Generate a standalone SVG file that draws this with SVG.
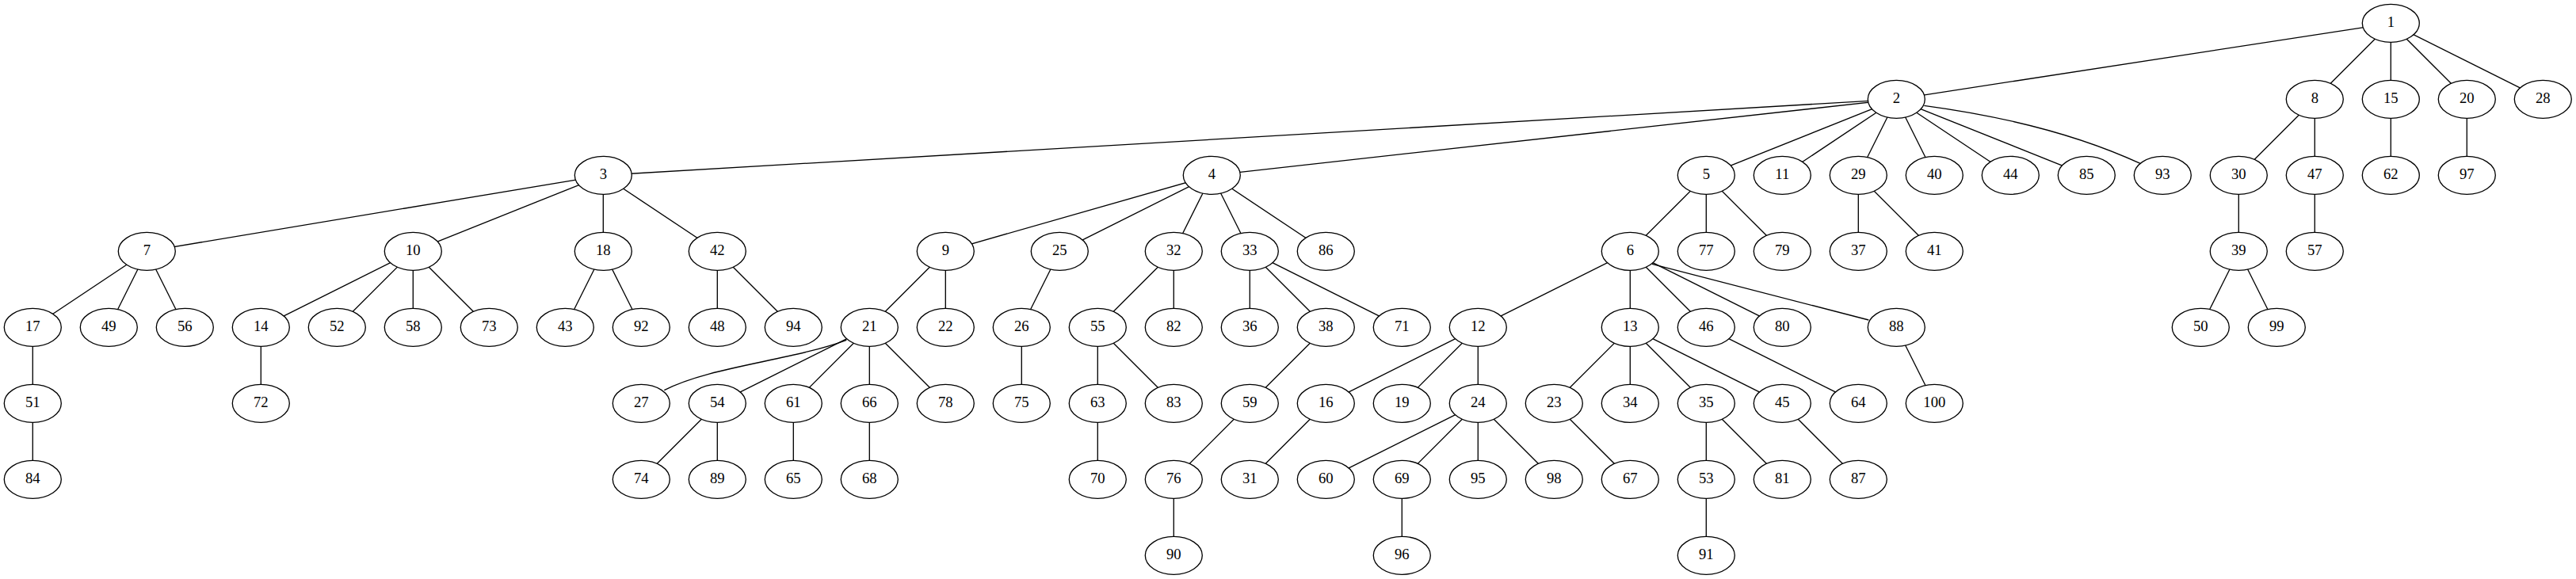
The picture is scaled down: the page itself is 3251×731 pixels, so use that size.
<svg xmlns="http://www.w3.org/2000/svg" width="3251" height="731" viewBox="0 0 3251 731">
<style>
.n ellipse{fill:#fff;stroke:#000;stroke-width:1.33}
.n text{font-family:"Liberation Serif","Times New Roman",serif;font-size:18.67px;text-anchor:middle;fill:#000}
#edges line,#edges path{stroke:#000;stroke-width:1.33;fill:none}
</style>
<rect width="3251" height="731" fill="#fff"/>
<g id="edges">
<line x1="3017.3" y1="29.3" x2="2393.3" y2="125.3"/>
<line x1="3017.3" y1="29.3" x2="2921.3" y2="125.3"/>
<line x1="3017.3" y1="29.3" x2="3017.3" y2="125.3"/>
<line x1="3017.3" y1="29.3" x2="3113.3" y2="125.3"/>
<line x1="3017.3" y1="29.3" x2="3209.3" y2="125.3"/>
<line x1="2393.3" y1="125.3" x2="761.3" y2="221.3"/>
<line x1="2393.3" y1="125.3" x2="1529.3" y2="221.3"/>
<line x1="2393.3" y1="125.3" x2="2153.3" y2="221.3"/>
<line x1="2393.3" y1="125.3" x2="2249.3" y2="221.3"/>
<line x1="2393.3" y1="125.3" x2="2345.3" y2="221.3"/>
<line x1="2393.3" y1="125.3" x2="2441.3" y2="221.3"/>
<line x1="2393.3" y1="125.3" x2="2537.3" y2="221.3"/>
<line x1="2393.3" y1="125.3" x2="2633.3" y2="221.3"/>
<path d="M2428.3,133.3 Q2590,155 2701.7,206.7"/>
<line x1="2921.3" y1="125.3" x2="2825.3" y2="221.3"/>
<line x1="2921.3" y1="125.3" x2="2921.3" y2="221.3"/>
<line x1="3017.3" y1="125.3" x2="3017.3" y2="221.3"/>
<line x1="3113.3" y1="125.3" x2="3113.3" y2="221.3"/>
<line x1="761.3" y1="221.3" x2="185.3" y2="317.3"/>
<line x1="761.3" y1="221.3" x2="521.3" y2="317.3"/>
<line x1="761.3" y1="221.3" x2="761.3" y2="317.3"/>
<line x1="761.3" y1="221.3" x2="905.3" y2="317.3"/>
<line x1="1529.3" y1="221.3" x2="1193.3" y2="317.3"/>
<line x1="1529.3" y1="221.3" x2="1337.3" y2="317.3"/>
<line x1="1529.3" y1="221.3" x2="1481.3" y2="317.3"/>
<line x1="1529.3" y1="221.3" x2="1577.3" y2="317.3"/>
<line x1="1529.3" y1="221.3" x2="1673.3" y2="317.3"/>
<line x1="2153.3" y1="221.3" x2="2057.3" y2="317.3"/>
<line x1="2153.3" y1="221.3" x2="2153.3" y2="317.3"/>
<line x1="2153.3" y1="221.3" x2="2249.3" y2="317.3"/>
<line x1="2345.3" y1="221.3" x2="2345.3" y2="317.3"/>
<line x1="2345.3" y1="221.3" x2="2441.3" y2="317.3"/>
<line x1="2825.3" y1="221.3" x2="2825.3" y2="317.3"/>
<line x1="2921.3" y1="221.3" x2="2921.3" y2="317.3"/>
<line x1="185.3" y1="317.3" x2="41.3" y2="413.3"/>
<line x1="185.3" y1="317.3" x2="137.3" y2="413.3"/>
<line x1="185.3" y1="317.3" x2="233.3" y2="413.3"/>
<line x1="521.3" y1="317.3" x2="329.3" y2="413.3"/>
<line x1="521.3" y1="317.3" x2="425.3" y2="413.3"/>
<line x1="521.3" y1="317.3" x2="521.3" y2="413.3"/>
<line x1="521.3" y1="317.3" x2="617.3" y2="413.3"/>
<line x1="761.3" y1="317.3" x2="713.3" y2="413.3"/>
<line x1="761.3" y1="317.3" x2="809.3" y2="413.3"/>
<line x1="905.3" y1="317.3" x2="905.3" y2="413.3"/>
<line x1="905.3" y1="317.3" x2="1001.3" y2="413.3"/>
<line x1="1193.3" y1="317.3" x2="1097.3" y2="413.3"/>
<line x1="1193.3" y1="317.3" x2="1193.3" y2="413.3"/>
<line x1="1337.3" y1="317.3" x2="1289.3" y2="413.3"/>
<line x1="1481.3" y1="317.3" x2="1385.3" y2="413.3"/>
<line x1="1481.3" y1="317.3" x2="1481.3" y2="413.3"/>
<line x1="1577.3" y1="317.3" x2="1577.3" y2="413.3"/>
<line x1="1577.3" y1="317.3" x2="1673.3" y2="413.3"/>
<line x1="1577.3" y1="317.3" x2="1769.3" y2="413.3"/>
<line x1="2057.3" y1="317.3" x2="1865.3" y2="413.3"/>
<line x1="2057.3" y1="317.3" x2="2057.3" y2="413.3"/>
<line x1="2057.3" y1="317.3" x2="2153.3" y2="413.3"/>
<line x1="2057.3" y1="317.3" x2="2249.3" y2="413.3"/>
<line x1="2085" y1="333.3" x2="2358.3" y2="404"/>
<line x1="2825.3" y1="317.3" x2="2777.3" y2="413.3"/>
<line x1="2825.3" y1="317.3" x2="2873.3" y2="413.3"/>
<line x1="41.3" y1="413.3" x2="41.3" y2="509.3"/>
<line x1="329.3" y1="413.3" x2="329.3" y2="509.3"/>
<path d="M1068.3,429.3 C1000,455 895,463 838.3,492.7"/>
<line x1="1097.3" y1="413.3" x2="905.3" y2="509.3"/>
<line x1="1097.3" y1="413.3" x2="1001.3" y2="509.3"/>
<line x1="1097.3" y1="413.3" x2="1097.3" y2="509.3"/>
<line x1="1097.3" y1="413.3" x2="1193.3" y2="509.3"/>
<line x1="1289.3" y1="413.3" x2="1289.3" y2="509.3"/>
<line x1="1385.3" y1="413.3" x2="1385.3" y2="509.3"/>
<line x1="1385.3" y1="413.3" x2="1481.3" y2="509.3"/>
<line x1="1673.3" y1="413.3" x2="1577.3" y2="509.3"/>
<line x1="1865.3" y1="413.3" x2="1673.3" y2="509.3"/>
<line x1="1865.3" y1="413.3" x2="1769.3" y2="509.3"/>
<line x1="1865.3" y1="413.3" x2="1865.3" y2="509.3"/>
<line x1="2057.3" y1="413.3" x2="1961.3" y2="509.3"/>
<line x1="2057.3" y1="413.3" x2="2057.3" y2="509.3"/>
<line x1="2057.3" y1="413.3" x2="2153.3" y2="509.3"/>
<line x1="2057.3" y1="413.3" x2="2249.3" y2="509.3"/>
<line x1="2153.3" y1="413.3" x2="2345.3" y2="509.3"/>
<line x1="2393.3" y1="413.3" x2="2441.3" y2="509.3"/>
<line x1="41.3" y1="509.3" x2="41.3" y2="605.3"/>
<line x1="905.3" y1="509.3" x2="809.3" y2="605.3"/>
<line x1="905.3" y1="509.3" x2="905.3" y2="605.3"/>
<line x1="1001.3" y1="509.3" x2="1001.3" y2="605.3"/>
<line x1="1097.3" y1="509.3" x2="1097.3" y2="605.3"/>
<line x1="1385.3" y1="509.3" x2="1385.3" y2="605.3"/>
<line x1="1577.3" y1="509.3" x2="1481.3" y2="605.3"/>
<line x1="1673.3" y1="509.3" x2="1577.3" y2="605.3"/>
<line x1="1865.3" y1="509.3" x2="1673.3" y2="605.3"/>
<line x1="1865.3" y1="509.3" x2="1769.3" y2="605.3"/>
<line x1="1865.3" y1="509.3" x2="1865.3" y2="605.3"/>
<line x1="1865.3" y1="509.3" x2="1961.3" y2="605.3"/>
<line x1="1961.3" y1="509.3" x2="2057.3" y2="605.3"/>
<line x1="2153.3" y1="509.3" x2="2153.3" y2="605.3"/>
<line x1="2153.3" y1="509.3" x2="2249.3" y2="605.3"/>
<line x1="2249.3" y1="509.3" x2="2345.3" y2="605.3"/>
<line x1="1481.3" y1="605.3" x2="1481.3" y2="701.3"/>
<line x1="1769.3" y1="605.3" x2="1769.3" y2="701.3"/>
<line x1="2153.3" y1="605.3" x2="2153.3" y2="701.3"/>
</g>
<g id="node1" class="n"><ellipse cx="3017.3" cy="29.3" rx="36" ry="24"/><text x="3017.3" y="34.4">1</text></g>
<g id="node2" class="n"><ellipse cx="2393.3" cy="125.3" rx="36" ry="24"/><text x="2393.3" y="130.4">2</text></g>
<g id="node8" class="n"><ellipse cx="2921.3" cy="125.3" rx="36" ry="24"/><text x="2921.3" y="130.4">8</text></g>
<g id="node15" class="n"><ellipse cx="3017.3" cy="125.3" rx="36" ry="24"/><text x="3017.3" y="130.4">15</text></g>
<g id="node20" class="n"><ellipse cx="3113.3" cy="125.3" rx="36" ry="24"/><text x="3113.3" y="130.4">20</text></g>
<g id="node28" class="n"><ellipse cx="3209.3" cy="125.3" rx="36" ry="24"/><text x="3209.3" y="130.4">28</text></g>
<g id="node3" class="n"><ellipse cx="761.3" cy="221.3" rx="36" ry="24"/><text x="761.3" y="226.4">3</text></g>
<g id="node4" class="n"><ellipse cx="1529.3" cy="221.3" rx="36" ry="24"/><text x="1529.3" y="226.4">4</text></g>
<g id="node5" class="n"><ellipse cx="2153.3" cy="221.3" rx="36" ry="24"/><text x="2153.3" y="226.4">5</text></g>
<g id="node11" class="n"><ellipse cx="2249.3" cy="221.3" rx="36" ry="24"/><text x="2249.3" y="226.4">11</text></g>
<g id="node29" class="n"><ellipse cx="2345.3" cy="221.3" rx="36" ry="24"/><text x="2345.3" y="226.4">29</text></g>
<g id="node40" class="n"><ellipse cx="2441.3" cy="221.3" rx="36" ry="24"/><text x="2441.3" y="226.4">40</text></g>
<g id="node44" class="n"><ellipse cx="2537.3" cy="221.3" rx="36" ry="24"/><text x="2537.3" y="226.4">44</text></g>
<g id="node85" class="n"><ellipse cx="2633.3" cy="221.3" rx="36" ry="24"/><text x="2633.3" y="226.4">85</text></g>
<g id="node93" class="n"><ellipse cx="2729.3" cy="221.3" rx="36" ry="24"/><text x="2729.3" y="226.4">93</text></g>
<g id="node30" class="n"><ellipse cx="2825.3" cy="221.3" rx="36" ry="24"/><text x="2825.3" y="226.4">30</text></g>
<g id="node47" class="n"><ellipse cx="2921.3" cy="221.3" rx="36" ry="24"/><text x="2921.3" y="226.4">47</text></g>
<g id="node62" class="n"><ellipse cx="3017.3" cy="221.3" rx="36" ry="24"/><text x="3017.3" y="226.4">62</text></g>
<g id="node97" class="n"><ellipse cx="3113.3" cy="221.3" rx="36" ry="24"/><text x="3113.3" y="226.4">97</text></g>
<g id="node7" class="n"><ellipse cx="185.3" cy="317.3" rx="36" ry="24"/><text x="185.3" y="322.4">7</text></g>
<g id="node10" class="n"><ellipse cx="521.3" cy="317.3" rx="36" ry="24"/><text x="521.3" y="322.4">10</text></g>
<g id="node18" class="n"><ellipse cx="761.3" cy="317.3" rx="36" ry="24"/><text x="761.3" y="322.4">18</text></g>
<g id="node42" class="n"><ellipse cx="905.3" cy="317.3" rx="36" ry="24"/><text x="905.3" y="322.4">42</text></g>
<g id="node9" class="n"><ellipse cx="1193.3" cy="317.3" rx="36" ry="24"/><text x="1193.3" y="322.4">9</text></g>
<g id="node25" class="n"><ellipse cx="1337.3" cy="317.3" rx="36" ry="24"/><text x="1337.3" y="322.4">25</text></g>
<g id="node32" class="n"><ellipse cx="1481.3" cy="317.3" rx="36" ry="24"/><text x="1481.3" y="322.4">32</text></g>
<g id="node33" class="n"><ellipse cx="1577.3" cy="317.3" rx="36" ry="24"/><text x="1577.3" y="322.4">33</text></g>
<g id="node86" class="n"><ellipse cx="1673.3" cy="317.3" rx="36" ry="24"/><text x="1673.3" y="322.4">86</text></g>
<g id="node6" class="n"><ellipse cx="2057.3" cy="317.3" rx="36" ry="24"/><text x="2057.3" y="322.4">6</text></g>
<g id="node77" class="n"><ellipse cx="2153.3" cy="317.3" rx="36" ry="24"/><text x="2153.3" y="322.4">77</text></g>
<g id="node79" class="n"><ellipse cx="2249.3" cy="317.3" rx="36" ry="24"/><text x="2249.3" y="322.4">79</text></g>
<g id="node37" class="n"><ellipse cx="2345.3" cy="317.3" rx="36" ry="24"/><text x="2345.3" y="322.4">37</text></g>
<g id="node41" class="n"><ellipse cx="2441.3" cy="317.3" rx="36" ry="24"/><text x="2441.3" y="322.4">41</text></g>
<g id="node39" class="n"><ellipse cx="2825.3" cy="317.3" rx="36" ry="24"/><text x="2825.3" y="322.4">39</text></g>
<g id="node57" class="n"><ellipse cx="2921.3" cy="317.3" rx="36" ry="24"/><text x="2921.3" y="322.4">57</text></g>
<g id="node17" class="n"><ellipse cx="41.3" cy="413.3" rx="36" ry="24"/><text x="41.3" y="418.4">17</text></g>
<g id="node49" class="n"><ellipse cx="137.3" cy="413.3" rx="36" ry="24"/><text x="137.3" y="418.4">49</text></g>
<g id="node56" class="n"><ellipse cx="233.3" cy="413.3" rx="36" ry="24"/><text x="233.3" y="418.4">56</text></g>
<g id="node14" class="n"><ellipse cx="329.3" cy="413.3" rx="36" ry="24"/><text x="329.3" y="418.4">14</text></g>
<g id="node52" class="n"><ellipse cx="425.3" cy="413.3" rx="36" ry="24"/><text x="425.3" y="418.4">52</text></g>
<g id="node58" class="n"><ellipse cx="521.3" cy="413.3" rx="36" ry="24"/><text x="521.3" y="418.4">58</text></g>
<g id="node73" class="n"><ellipse cx="617.3" cy="413.3" rx="36" ry="24"/><text x="617.3" y="418.4">73</text></g>
<g id="node43" class="n"><ellipse cx="713.3" cy="413.3" rx="36" ry="24"/><text x="713.3" y="418.4">43</text></g>
<g id="node92" class="n"><ellipse cx="809.3" cy="413.3" rx="36" ry="24"/><text x="809.3" y="418.4">92</text></g>
<g id="node48" class="n"><ellipse cx="905.3" cy="413.3" rx="36" ry="24"/><text x="905.3" y="418.4">48</text></g>
<g id="node94" class="n"><ellipse cx="1001.3" cy="413.3" rx="36" ry="24"/><text x="1001.3" y="418.4">94</text></g>
<g id="node21" class="n"><ellipse cx="1097.3" cy="413.3" rx="36" ry="24"/><text x="1097.3" y="418.4">21</text></g>
<g id="node22" class="n"><ellipse cx="1193.3" cy="413.3" rx="36" ry="24"/><text x="1193.3" y="418.4">22</text></g>
<g id="node26" class="n"><ellipse cx="1289.3" cy="413.3" rx="36" ry="24"/><text x="1289.3" y="418.4">26</text></g>
<g id="node55" class="n"><ellipse cx="1385.3" cy="413.3" rx="36" ry="24"/><text x="1385.3" y="418.4">55</text></g>
<g id="node82" class="n"><ellipse cx="1481.3" cy="413.3" rx="36" ry="24"/><text x="1481.3" y="418.4">82</text></g>
<g id="node36" class="n"><ellipse cx="1577.3" cy="413.3" rx="36" ry="24"/><text x="1577.3" y="418.4">36</text></g>
<g id="node38" class="n"><ellipse cx="1673.3" cy="413.3" rx="36" ry="24"/><text x="1673.3" y="418.4">38</text></g>
<g id="node71" class="n"><ellipse cx="1769.3" cy="413.3" rx="36" ry="24"/><text x="1769.3" y="418.4">71</text></g>
<g id="node12" class="n"><ellipse cx="1865.3" cy="413.3" rx="36" ry="24"/><text x="1865.3" y="418.4">12</text></g>
<g id="node13" class="n"><ellipse cx="2057.3" cy="413.3" rx="36" ry="24"/><text x="2057.3" y="418.4">13</text></g>
<g id="node46" class="n"><ellipse cx="2153.3" cy="413.3" rx="36" ry="24"/><text x="2153.3" y="418.4">46</text></g>
<g id="node80" class="n"><ellipse cx="2249.3" cy="413.3" rx="36" ry="24"/><text x="2249.3" y="418.4">80</text></g>
<g id="node88" class="n"><ellipse cx="2393.3" cy="413.3" rx="36" ry="24"/><text x="2393.3" y="418.4">88</text></g>
<g id="node50" class="n"><ellipse cx="2777.3" cy="413.3" rx="36" ry="24"/><text x="2777.3" y="418.4">50</text></g>
<g id="node99" class="n"><ellipse cx="2873.3" cy="413.3" rx="36" ry="24"/><text x="2873.3" y="418.4">99</text></g>
<g id="node51" class="n"><ellipse cx="41.3" cy="509.3" rx="36" ry="24"/><text x="41.3" y="514.4">51</text></g>
<g id="node72" class="n"><ellipse cx="329.3" cy="509.3" rx="36" ry="24"/><text x="329.3" y="514.4">72</text></g>
<g id="node27" class="n"><ellipse cx="809.3" cy="509.3" rx="36" ry="24"/><text x="809.3" y="514.4">27</text></g>
<g id="node54" class="n"><ellipse cx="905.3" cy="509.3" rx="36" ry="24"/><text x="905.3" y="514.4">54</text></g>
<g id="node61" class="n"><ellipse cx="1001.3" cy="509.3" rx="36" ry="24"/><text x="1001.3" y="514.4">61</text></g>
<g id="node66" class="n"><ellipse cx="1097.3" cy="509.3" rx="36" ry="24"/><text x="1097.3" y="514.4">66</text></g>
<g id="node78" class="n"><ellipse cx="1193.3" cy="509.3" rx="36" ry="24"/><text x="1193.3" y="514.4">78</text></g>
<g id="node75" class="n"><ellipse cx="1289.3" cy="509.3" rx="36" ry="24"/><text x="1289.3" y="514.4">75</text></g>
<g id="node63" class="n"><ellipse cx="1385.3" cy="509.3" rx="36" ry="24"/><text x="1385.3" y="514.4">63</text></g>
<g id="node83" class="n"><ellipse cx="1481.3" cy="509.3" rx="36" ry="24"/><text x="1481.3" y="514.4">83</text></g>
<g id="node59" class="n"><ellipse cx="1577.3" cy="509.3" rx="36" ry="24"/><text x="1577.3" y="514.4">59</text></g>
<g id="node16" class="n"><ellipse cx="1673.3" cy="509.3" rx="36" ry="24"/><text x="1673.3" y="514.4">16</text></g>
<g id="node19" class="n"><ellipse cx="1769.3" cy="509.3" rx="36" ry="24"/><text x="1769.3" y="514.4">19</text></g>
<g id="node24" class="n"><ellipse cx="1865.3" cy="509.3" rx="36" ry="24"/><text x="1865.3" y="514.4">24</text></g>
<g id="node23" class="n"><ellipse cx="1961.3" cy="509.3" rx="36" ry="24"/><text x="1961.3" y="514.4">23</text></g>
<g id="node34" class="n"><ellipse cx="2057.3" cy="509.3" rx="36" ry="24"/><text x="2057.3" y="514.4">34</text></g>
<g id="node35" class="n"><ellipse cx="2153.3" cy="509.3" rx="36" ry="24"/><text x="2153.3" y="514.4">35</text></g>
<g id="node45" class="n"><ellipse cx="2249.3" cy="509.3" rx="36" ry="24"/><text x="2249.3" y="514.4">45</text></g>
<g id="node64" class="n"><ellipse cx="2345.3" cy="509.3" rx="36" ry="24"/><text x="2345.3" y="514.4">64</text></g>
<g id="node100" class="n"><ellipse cx="2441.3" cy="509.3" rx="36" ry="24"/><text x="2441.3" y="514.4">100</text></g>
<g id="node84" class="n"><ellipse cx="41.3" cy="605.3" rx="36" ry="24"/><text x="41.3" y="610.4">84</text></g>
<g id="node74" class="n"><ellipse cx="809.3" cy="605.3" rx="36" ry="24"/><text x="809.3" y="610.4">74</text></g>
<g id="node89" class="n"><ellipse cx="905.3" cy="605.3" rx="36" ry="24"/><text x="905.3" y="610.4">89</text></g>
<g id="node65" class="n"><ellipse cx="1001.3" cy="605.3" rx="36" ry="24"/><text x="1001.3" y="610.4">65</text></g>
<g id="node68" class="n"><ellipse cx="1097.3" cy="605.3" rx="36" ry="24"/><text x="1097.3" y="610.4">68</text></g>
<g id="node70" class="n"><ellipse cx="1385.3" cy="605.3" rx="36" ry="24"/><text x="1385.3" y="610.4">70</text></g>
<g id="node76" class="n"><ellipse cx="1481.3" cy="605.3" rx="36" ry="24"/><text x="1481.3" y="610.4">76</text></g>
<g id="node31" class="n"><ellipse cx="1577.3" cy="605.3" rx="36" ry="24"/><text x="1577.3" y="610.4">31</text></g>
<g id="node60" class="n"><ellipse cx="1673.3" cy="605.3" rx="36" ry="24"/><text x="1673.3" y="610.4">60</text></g>
<g id="node69" class="n"><ellipse cx="1769.3" cy="605.3" rx="36" ry="24"/><text x="1769.3" y="610.4">69</text></g>
<g id="node95" class="n"><ellipse cx="1865.3" cy="605.3" rx="36" ry="24"/><text x="1865.3" y="610.4">95</text></g>
<g id="node98" class="n"><ellipse cx="1961.3" cy="605.3" rx="36" ry="24"/><text x="1961.3" y="610.4">98</text></g>
<g id="node67" class="n"><ellipse cx="2057.3" cy="605.3" rx="36" ry="24"/><text x="2057.3" y="610.4">67</text></g>
<g id="node53" class="n"><ellipse cx="2153.3" cy="605.3" rx="36" ry="24"/><text x="2153.3" y="610.4">53</text></g>
<g id="node81" class="n"><ellipse cx="2249.3" cy="605.3" rx="36" ry="24"/><text x="2249.3" y="610.4">81</text></g>
<g id="node87" class="n"><ellipse cx="2345.3" cy="605.3" rx="36" ry="24"/><text x="2345.3" y="610.4">87</text></g>
<g id="node90" class="n"><ellipse cx="1481.3" cy="701.3" rx="36" ry="24"/><text x="1481.3" y="706.4">90</text></g>
<g id="node96" class="n"><ellipse cx="1769.3" cy="701.3" rx="36" ry="24"/><text x="1769.3" y="706.4">96</text></g>
<g id="node91" class="n"><ellipse cx="2153.3" cy="701.3" rx="36" ry="24"/><text x="2153.3" y="706.4">91</text></g>
</svg>
